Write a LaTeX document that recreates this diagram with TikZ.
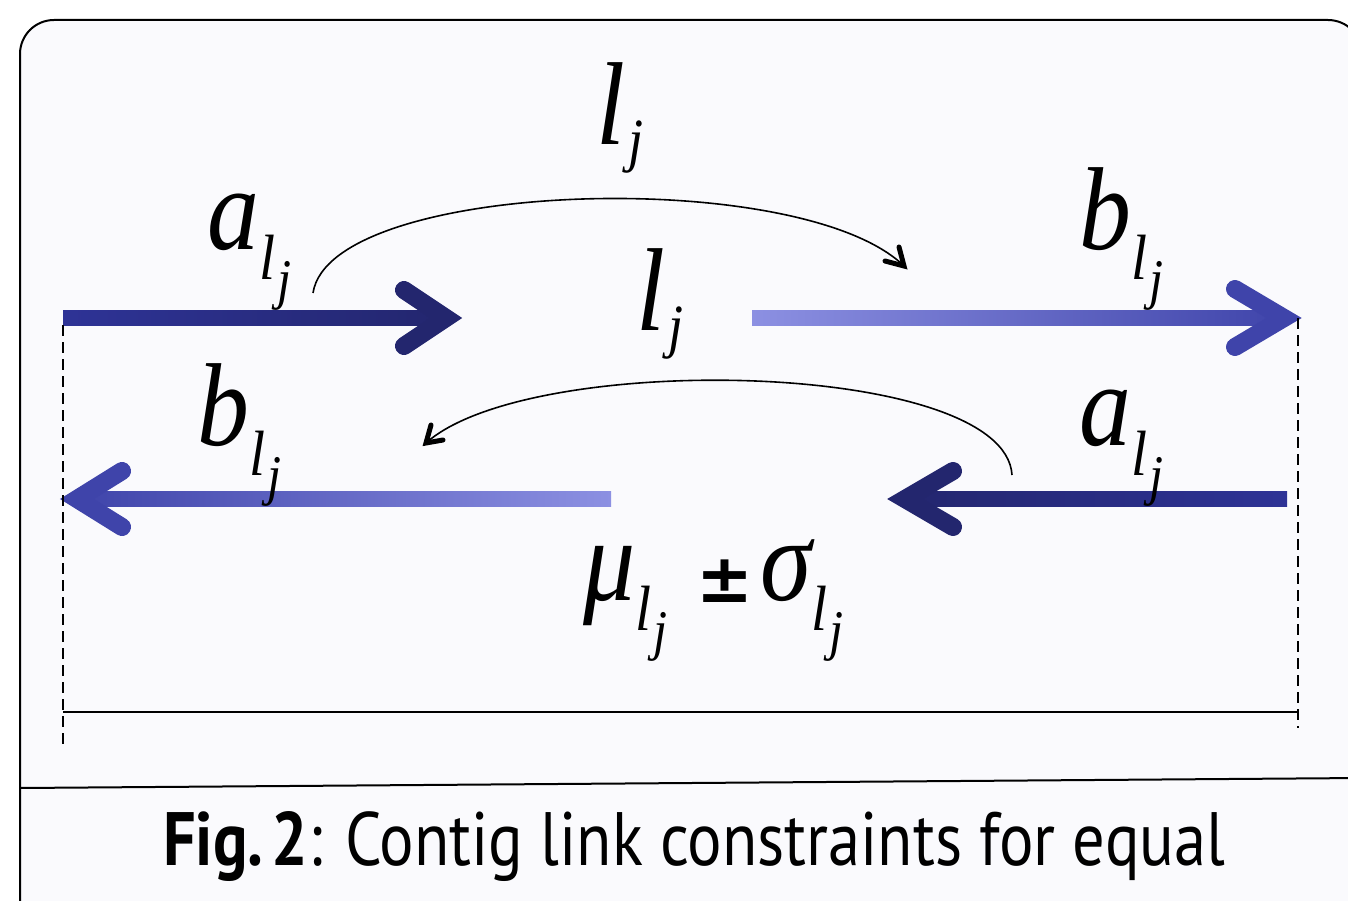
\documentclass[tikz,border=0pt]{standalone}
\usepackage{fontspec}
\setmainfont{Liberation Serif}
\newfontfamily\capfont{PT Sans}
\newfontfamily\pmfont{DejaVu Sans}
\usetikzlibrary{arrows.meta}
\definecolor{bgc}{HTML}{FAFAFD}
\definecolor{adark}{HTML}{23266E}
\definecolor{amid}{HTML}{2E3396}
\definecolor{ablue}{HTML}{3F44AA}
\definecolor{alight}{HTML}{8C90E2}
\newcommand\bigit[1]{\scalebox{0.88}[1]{\fontsize{118}{118}\selectfont\itshape #1}}
\newcommand\lsub{\raisebox{-30pt}{\scalebox{0.9}[1]{\fontsize{64}{64}\selectfont\itshape l}\hspace{2pt}\raisebox{-19pt}{\scalebox{0.9}[1]{\fontsize{56}{56}\selectfont\itshape j}}}}
\newcommand\ljtop{\bigit{l}\hspace{3pt}\raisebox{-16pt}{\scalebox{0.9}[1]{\fontsize{60}{60}\selectfont\itshape j}}}
\begin{document}
\begin{tikzpicture}[x=1pt,y=-1pt,
  lab/.style={inner sep=0pt,anchor=base west},
  barb/.style={line width=18pt,line cap=round,line join=miter,miter limit=10},
  thin/.style={line width=1.6pt,black},
  smallbarb/.style={line width=5pt,black,line cap=round,line join=miter},
  dashline/.style={line width=1.8pt,dash pattern=on 11pt off 6pt}]
\clip (0,0) rectangle (1348,901);
\fill[white] (0,0) rectangle (1348,901);
% frame
\draw[line width=2pt,fill=bgc,rounded corners=34pt] (20,20) rectangle (1362,935);
\draw[line width=2pt] (20,788) -- (1362,778);
% arrows: top left (dark)
\shade[left color=amid,right color=adark] (63,310.5) rectangle (450,325.5);
\draw[barb,adark] (404,290) -- (446,318) -- (404,346);
% top right (light -> blue)
\shade[left color=alight,right color=ablue] (752,310.5) rectangle (1288,325.5);
\draw[barb,ablue] (1235,289) -- (1284,318) -- (1235,347);
% bottom left (blue -> light)
\shade[left color=ablue,right color=alight] (75,491.5) rectangle (611,506.5);
\draw[barb,ablue] (122,471) -- (77,499) -- (122,527);
% bottom right (dark -> mid)
\shade[left color=adark,right color=amid] (902,491.5) rectangle (1287,506.5);
\draw[barb,adark] (953,471) -- (905,499) -- (953,527);
% dashed guides and dimension line
\coordinate (lt) at (63,325); \coordinate (lb) at (63,745);
\coordinate (rt) at (1298,318); \coordinate (rb) at (1298,728);
\coordinate (dl) at (63,712); \coordinate (dr) at (1298,712);
\draw[dashline] (lt) -- (lb);
\draw[dashline] (rt) -- (rb);
\draw[line width=2pt] (dl) -- (dr);
% curved arrows
\coordinate (c1s) at (313,293); \coordinate (c1e) at (904,266);
\coordinate (c2s) at (1012,475); \coordinate (c2e) at (426,443);
\draw[thin] (c1s) .. controls (330,180) and (800,165) .. (c1e);
\draw[smallbarb] ([shift={(-19,-5)}]c1e) -- (c1e) -- ([shift={(-5,-19)}]c1e);
\draw[thin] (c2s) .. controls (1005,360) and (530,350) .. (c2e);
\draw[smallbarb] ([shift={(5,-18)}]c2e) -- (c2e) -- ([shift={(17,-3)}]c2e);
% labels
\node[lab] (ltop) at (596,145) {\ljtop};
\node[lab] (lmid) at (636,330) {\ljtop};
\node[lab] (a1) at (207,250) {\bigit{a}\lsub};
\node[lab] (b1) at (1079,250) {\bigit{b}\lsub};
\node[lab] (b2) at (197,445) {\bigit{b}\lsub};
\node[lab] (a2) at (1079,445) {\bigit{a}\lsub};
\node[lab] (mu) at (583,600) {\bigit{μ}\lsub};
\node[lab] (pm) at (696,602) {\pmfont\fontsize{68}{68}\selectfont\bfseries ±};
\node[lab] (sig) at (760,600) {\bigit{σ}\lsub};
% caption
\node[lab] (cap) at (163,865) {\resizebox{1062pt}{54pt}{\capfont\fontsize{60}{60}\selectfont\textbf{Fig.\hspace{0.12em}2}: Contig link constraints for equal}};
\end{tikzpicture}
\end{document}
